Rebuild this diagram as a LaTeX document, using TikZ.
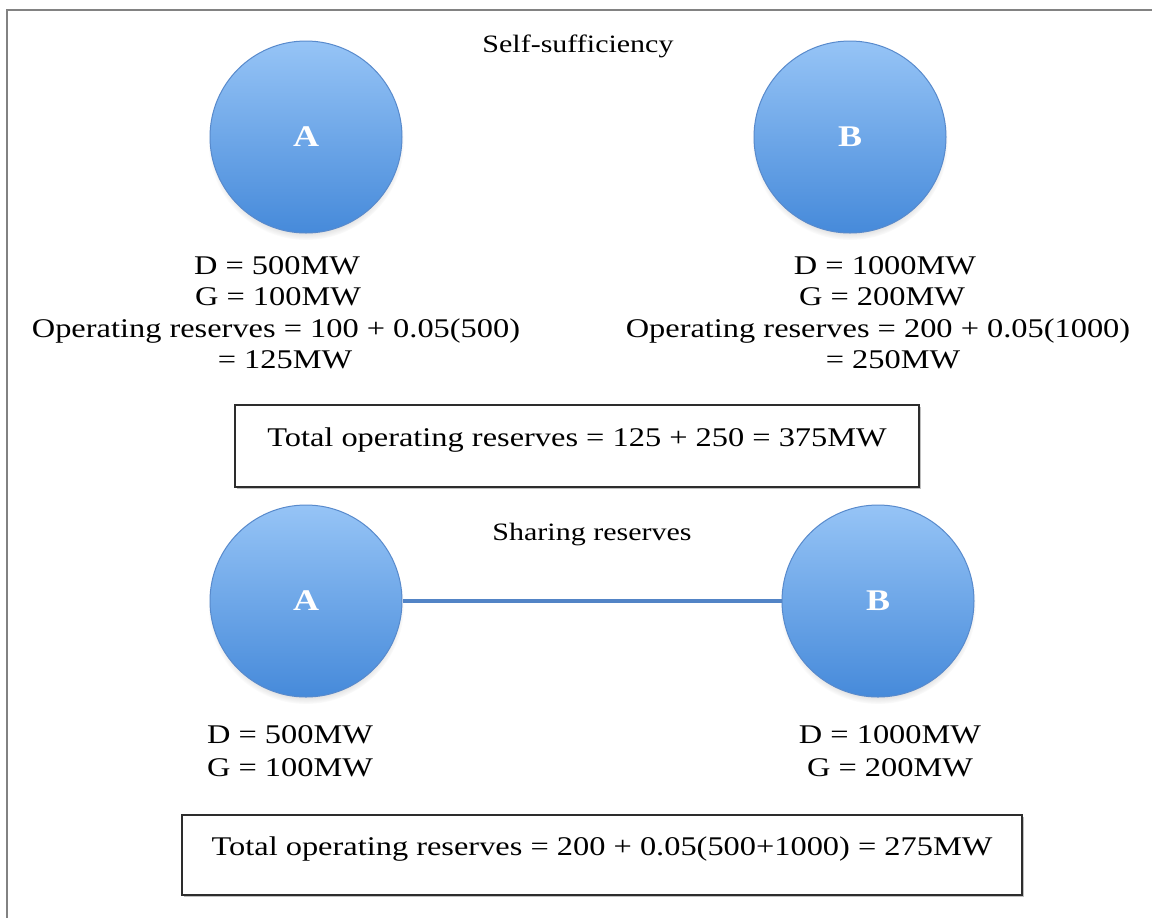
\documentclass[tikz,border=0pt]{standalone}
\usepackage{fontspec}
\setmainfont{Liberation Serif}[FakeStretch=1.2]
\usetikzlibrary{shadows}
\definecolor{cTop}{RGB}{150,196,246}
\definecolor{cBot}{RGB}{70,138,218}
\definecolor{cEdge}{RGB}{88,138,204}
\definecolor{cLink}{RGB}{82,132,198}
\definecolor{cFrame}{RGB}{130,130,130}
\definecolor{cBox}{RGB}{45,45,45}
\begin{document}
\begin{tikzpicture}[x=0.5pt,y=-0.5pt,
  txt/.style={font=\fontsize{13.5}{16}\selectfont, anchor=base, inner sep=0pt},
  title/.style={font=\fontsize{12.5}{15}\selectfont, anchor=base, inner sep=0pt},
  bubble/.style={circle, inner sep=0pt, minimum size=96pt, top color=cTop, bottom color=cBot,
    draw=cEdge, line width=0.5pt, text=white, font=\fontsize{15}{18}\selectfont\bfseries,
    circular drop shadow={shadow xshift=0pt, shadow yshift=-2.5pt, shadow scale=1.02, opacity=0.45}},
  link/.style={draw=cLink, line width=2pt},
  sumbox/.style={rectangle, draw=cBox, line width=0.9pt, fill=white, inner sep=0pt,
    font=\fontsize{13.5}{16}\selectfont, text height=9pt, text depth=9pt,
    drop shadow={shadow xshift=0.8pt, shadow yshift=-0.8pt, opacity=0.5}},
  frame/.style={draw=cFrame, line width=0.8pt}
]
\useasboundingbox (0,0) rectangle (1152,918);
\fill[white] (0,0) rectangle (1152,918);
% frame
\coordinate (f1) at (1152,10);
\coordinate (f2) at (7,10);
\coordinate (f3) at (7,918);
\draw[frame] (f1) -- (f2) -- (f3);

% ---- Self-sufficiency ----
\node[title] (t1) at (578,52) {Self-sufficiency};
\node[bubble] (a1) at (306,137) {A};
\node[bubble] (b1) at (850,137) {B};

\node[txt] (a1d) at (277,274) {D = 500MW};
\node[txt] (a1g) at (278,305) {G = 100MW};
\node[txt] (a1o) at (276,337) {Operating reserves = 100 + 0.05(500)};
\node[txt] (a1r) at (285,368) {= 125MW};

\node[txt] (b1d) at (885,274) {D = 1000MW};
\node[txt] (b1g) at (882,305) {G = 200MW};
\node[txt] (b1o) at (878,337) {Operating reserves = 200 + 0.05(1000)};
\node[txt] (b1r) at (893,368) {= 250MW};

\node[sumbox, minimum width=342pt, minimum height=41pt] (s1) at (577,446)
  {Total operating reserves = 125 + 250 = 375MW};

% ---- Sharing reserves ----
\node[title] (t2) at (592,540) {Sharing reserves};
\node[bubble] (a2) at (306,601) {A};
\node[bubble] (b2) at (878,601) {B};
\draw[link] (a2) -- (b2);

\node[txt] (a2d) at (290,743) {D = 500MW};
\node[txt] (a2g) at (290,776) {G = 100MW};
\node[txt] (b2d) at (890,743) {D = 1000MW};
\node[txt] (b2g) at (890,776) {G = 200MW};

\node[sumbox, minimum width=420pt, minimum height=40pt] (s2) at (602,855)
  {Total operating reserves = 200 + 0.05(500+1000) = 275MW};
\end{tikzpicture}
\end{document}
